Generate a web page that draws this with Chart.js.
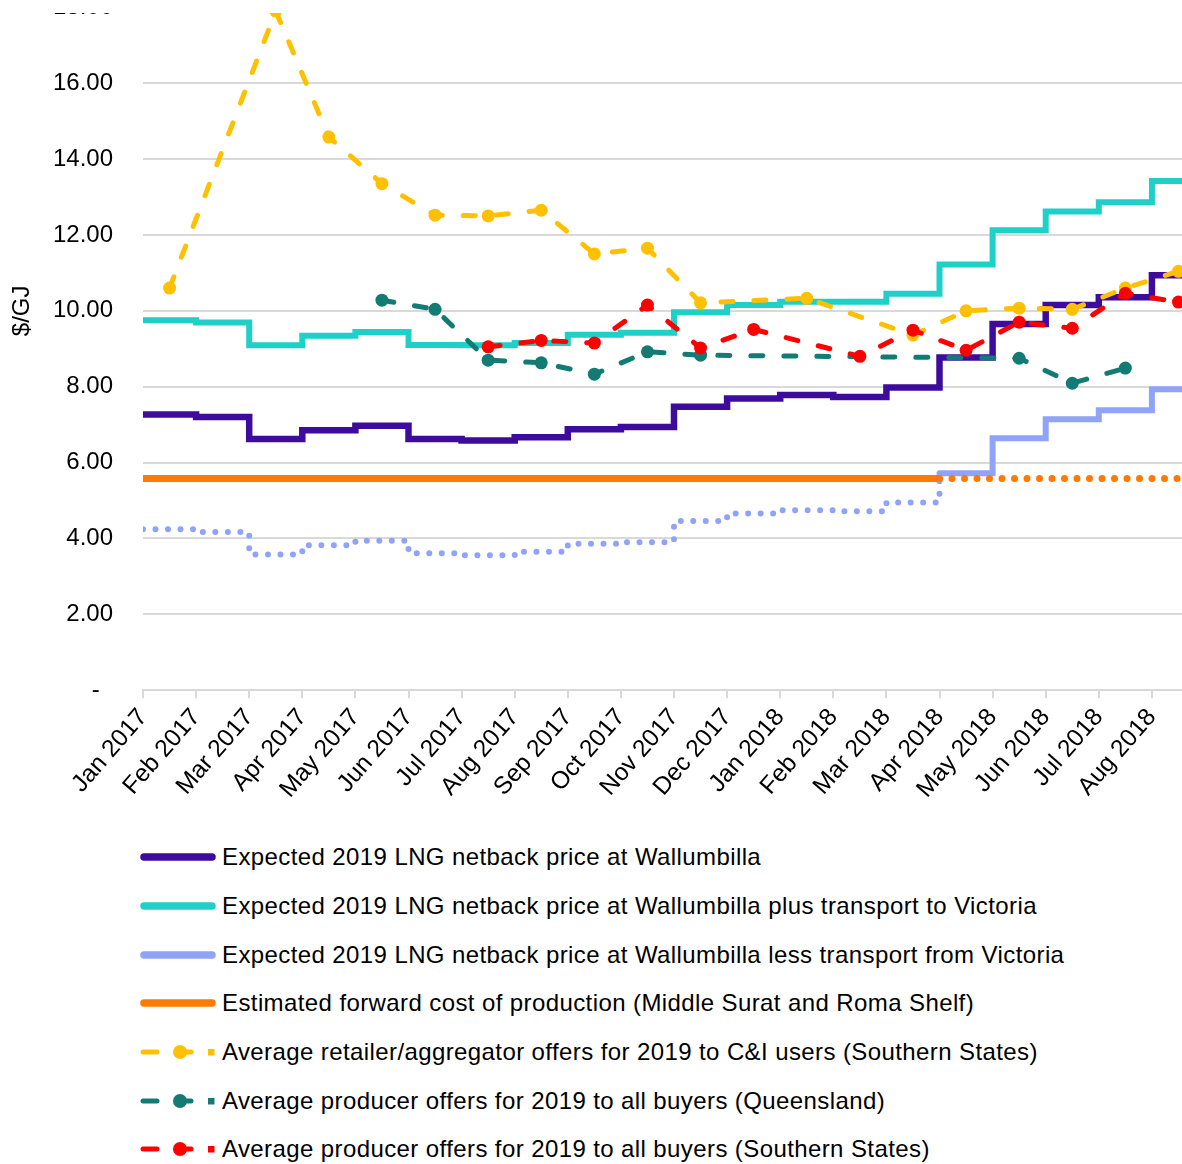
<!DOCTYPE html>
<html>
<head>
<meta charset="utf-8">
<script src="https://cdn.jsdelivr.net/npm/chart.js@4.4.1/dist/chart.umd.min.js"></script>
<style>
    body { margin: 0; background: #fff; width: 1182px; height: 1164px; overflow: hidden; position: relative; font-family: "Liberation Sans", Arial, sans-serif; }
    #clip { position: absolute; left: 0; top: 13px; width: 1182px; height: 812px; overflow: hidden; }
    #graph { position: absolute; left: 0; top: 0; }
    #legend { position: absolute; left: 140px; top: 833px; }
    .row { height: 48.7px; display: flex; align-items: center; font-size: 24px; letter-spacing: 0.4px; color: #000; white-space: nowrap; }
    .row svg { margin-right: 6px; flex: none; }
</style>
</head>
<body>
<div id="clip"><canvas id="graph" width="1230" height="900"></canvas></div>
<div id="legend"></div>
<script>
const months = ['Jan 2017', 'Feb 2017', 'Mar 2017', 'Apr 2017', 'May 2017', 'Jun 2017', 'Jul 2017', 'Aug 2017', 'Sep 2017', 'Oct 2017',
    'Nov 2017', 'Dec 2017', 'Jan 2018', 'Feb 2018', 'Mar 2018', 'Apr 2018', 'May 2018', 'Jun 2018', 'Jul 2018', 'Aug 2018']

// monthly step series ($/GJ)
const netback = [7.27, 7.20, 6.62, 6.85, 6.97, 6.62, 6.58, 6.67, 6.88, 6.94, 7.47, 7.69, 7.78, 7.73, 7.98, 8.77, 9.65, 10.15, 10.36, 10.94]
const plusTransport = [9.75, 9.69, 9.09, 9.34, 9.44, 9.10, 9.09, 9.15, 9.37, 9.42, 9.96, 10.15, 10.24, 10.24, 10.45, 11.22, 12.12, 12.62, 12.86, 13.42]
const lessTransport = [4.24, 4.17, 3.58, 3.82, 3.94, 3.61, 3.56, 3.65, 3.86, 3.90, 4.46, 4.66, 4.74, 4.72, 4.95, 5.72, 6.64, 7.14, 7.38, 7.93]
const production = [5.58, 5.58, 5.58, 5.58, 5.58, 5.58, 5.58, 5.58, 5.58, 5.58, 5.58, 5.58, 5.58, 5.58, 5.58, 5.58, 5.58, 5.58, 5.58, 5.58]

// offers, one per month (null = no offer)
const retailerOffers = [10.6, null, 17.9, 14.58, 13.35, 12.52, 12.5, 12.65, 11.5, 11.65, 10.21, null, 10.33, null, 9.36, 10.0, 10.07, 10.04, 10.6, 11.04]
const qldOffers = [null, null, null, null, 10.28, 10.04, 8.70, 8.63, 8.33, 8.92, 8.83, null, null, null, null, null, 8.75, 8.09, 8.49, null]
const southOffers = [null, null, null, null, null, null, 9.05, 9.22, 9.15, 10.15, 9.02, 9.51, null, 8.80, 9.49, 8.96, 9.70, 9.54, 10.46, 10.23]

const yTicks = { min: 0, max: 20, step: 2 }
const switchAt = months.indexOf('Apr 2018')

// step lines hold each monthly value from the start of the month to the next
function steps(values) {
    let pts = values.map((v, i) => ({ x: i, y: v }))
    pts.push({ x: values.length, y: values[values.length - 1] })
    return pts
}
function mids(values) {
    return values.map((v, i) => ({ x: i + 0.5, y: v }))
}

const dotted = [0, 12.5]
const dashed = [12, 21]

function stepSet(label, values, color, width, order, seg) {
    return {
        label: label, data: steps(values), borderColor: color, backgroundColor: color,
        borderWidth: width, stepped: 'before', pointRadius: 0, borderCapStyle: 'round',
        order: order, segment: seg || {}, kind: 'solid'
    }
}
function offerSet(label, values, color, order) {
    return {
        label: label, data: mids(values), borderColor: color, backgroundColor: color,
        borderWidth: 5, borderDash: dashed, borderCapStyle: 'round', spanGaps: true,
        pointRadius: 6.5, pointBorderWidth: 0, pointBackgroundColor: color,
        order: order, kind: 'dashed'
    }
}

const datasets = [
    stepSet('Expected 2019 LNG netback price at Wallumbilla', netback, '#3d0c9c', 6.5, 7),
    stepSet('Expected 2019 LNG netback price at Wallumbilla plus transport to Victoria', plusTransport, '#1ed0c8', 6, 6),
    stepSet('Expected 2019 LNG netback price at Wallumbilla less transport from Victoria', lessTransport, '#8fa3f9', 6, 5,
        { borderDash: ctx => ctx.p0.parsed.x < switchAt ? dotted : undefined }),
    stepSet('Estimated forward cost of production (Middle Surat and Roma Shelf)', production, '#ff7a00', 7, 4,
        { borderDash: ctx => ctx.p0.parsed.x >= switchAt ? dotted : undefined }),
    offerSet('Average retailer/aggregator offers for 2019 to C&I users (Southern States)', retailerOffers, '#ffc000', 3),
    offerSet('Average producer offers for 2019 to all buyers (Queensland)', qldOffers, '#127b74', 2),
    offerSet('Average producer offers for 2019 to all buyers (Southern States)', southOffers, '#ff0000', 1),
]

Chart.defaults.font.family = '"Liberation Sans", Arial, sans-serif'
Chart.defaults.font.size = 24
Chart.defaults.color = '#000'

let canvas = document.getElementById('graph')
let chart = new Chart(canvas.getContext('2d'), {
    type: 'line',
    data: { datasets: datasets },
    options: {
        responsive: false,
        maintainAspectRatio: false,
        animation: false,
        layout: { padding: { top: 20, right: 0, bottom: 0, left: 0 } },
        plugins: { legend: { display: false }, tooltip: { enabled: false } },
        scales: {
            x: {
                type: 'linear', min: 0, max: months.length,
                border: { color: '#d9d9d9', width: 2 },
                grid: { drawOnChartArea: false, drawTicks: true, tickLength: 8, color: '#d9d9d9', lineWidth: 2 },
                ticks: {
                    stepSize: 1, autoSkip: false, maxRotation: 49, minRotation: 49, padding: 5,
                    font: { size: 24.5 },
                    callback: v => months[v] || ''
                }
            },
            y: {
                min: yTicks.min, max: yTicks.max,
                border: { display: false },
                grid: { color: '#d9d9d9', lineWidth: 2, drawTicks: false },
                ticks: {
                    stepSize: yTicks.step, padding: 30,
                    callback: v => v === 0 ? '-  ' : v.toFixed(2)
                },
                title: { display: true, text: '$/GJ', padding: { top: 8, bottom: 0 } },
                afterFit: s => { s.width = 143 }
            }
        }
    }
})

// size the canvas so the plot lines up with the page frame, then shift it into place
const monthPx = 53.1
const unitPx = 37.94
let area = chart.chartArea
chart.resize(
    chart.width + (months.length * monthPx - (area.right - area.left)),
    chart.height + (yTicks.max * unitPx - (area.bottom - area.top))
)
canvas.style.left = (143 - chart.chartArea.left) + 'px'
canvas.style.top = (690 - 13 - chart.scales.y.getPixelForValue(0)) + 'px'

// legend
let legend = document.getElementById('legend')
datasets.forEach(d => {
    let c = d.borderColor
    let sample
    if (d.kind === 'solid') {
        sample = '<line x1="4" y1="10" x2="72" y2="10" stroke="' + c + '" stroke-width="7.5" stroke-linecap="round"/>'
    } else {
        sample = '<line x1="3" y1="10" x2="17" y2="10" stroke="' + c + '" stroke-width="5" stroke-linecap="round"/>' +
            '<line x1="40" y1="10" x2="51" y2="10" stroke="' + c + '" stroke-width="5" stroke-linecap="round"/>' +
            '<circle cx="40" cy="10" r="7" fill="' + c + '"/>' +
            '<rect x="68" y="7" width="6.5" height="6.5" fill="' + c + '"/>'
    }
    let row = document.createElement('div')
    row.className = 'row'
    row.innerHTML = '<svg width="76" height="20">' + sample + '</svg>'
    let span = document.createElement('span')
    span.textContent = d.label
    row.appendChild(span)
    legend.appendChild(row)
})
</script>
</body>
</html>
